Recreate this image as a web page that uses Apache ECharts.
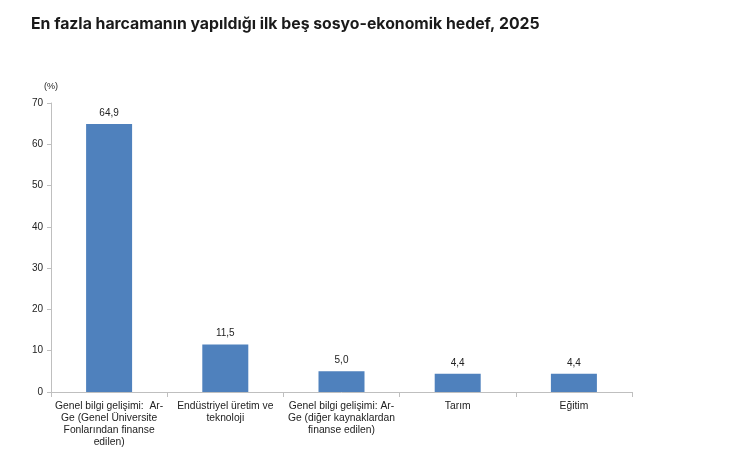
<!DOCTYPE html>
<html><head><meta charset="utf-8">
<script src="https://cdn.jsdelivr.net/npm/echarts@6/dist/echarts.min.js"></script>
<style>html,body{margin:0;padding:0;background:#fff}#c{width:739px;height:467px}</style>
</head><body><div id="c"></div>
<script>
var categories = [
  "Genel bilgi gelişimi:  Ar-\nGe (Genel Üniversite\nFonlarından finanse\nedilen)",
  "Endüstriyel üretim ve\nteknoloji",
  "Genel bilgi gelişimi: Ar-\nGe (diğer kaynaklardan\nfinanse edilen)",
  "Tarım",
  "Eğitim"
];
var values = [64.9, 11.5, 5.0, 4.4, 4.4];
var chart = echarts.init(document.getElementById('c'));
chart.setOption({
  animation: false,
  title: {
    text: 'En fazla harcamanın yapıldığı ilk beş sosyo-ekonomik hedef, 2025',
    left: 26, top: 11,
    textStyle: {fontFamily: 'Inter', fontSize: 15.8, fontWeight: 'bold', color: '#1a1a1a'}
  },
  grid: {left: 51, right: 107, top: 103, bottom: 75, containLabel: false},
  xAxis: {
    type: 'category', data: categories,
    axisLine: {lineStyle: {color: '#bfbfbf'}},
    axisTick: {show: true, length: 5, lineStyle: {color: '#bfbfbf'}},
    axisLabel: {interval: 0, fontFamily: 'Liberation Sans', fontSize: 10.3, color: '#222', lineHeight: 12, margin: 8}
  },
  yAxis: {
    type: 'value', min: 0, max: 70, interval: 10,
    name: '(%)', nameLocation: 'end', nameGap: 12,
    nameTextStyle: {fontFamily: 'Liberation Sans', fontSize: 9, color: '#222', align: 'center'},
    axisLine: {show: true, lineStyle: {color: '#bfbfbf'}},
    axisTick: {show: true, length: 4, lineStyle: {color: '#bfbfbf'}},
    splitLine: {show: false},
    axisLabel: {fontFamily: 'Liberation Sans', fontSize: 10, color: '#222', margin: 8}
  },
  series: [{
    type: 'bar', data: values, barWidth: 46,
    itemStyle: {color: '#4f81bd'},
    label: {show: true, position: 'top', distance: 6, fontFamily: 'Liberation Sans', fontSize: 10, color: '#222',
      formatter: function(p){ return p.value.toFixed(1).replace('.', ','); }}
  }]
});
</script></body></html>
